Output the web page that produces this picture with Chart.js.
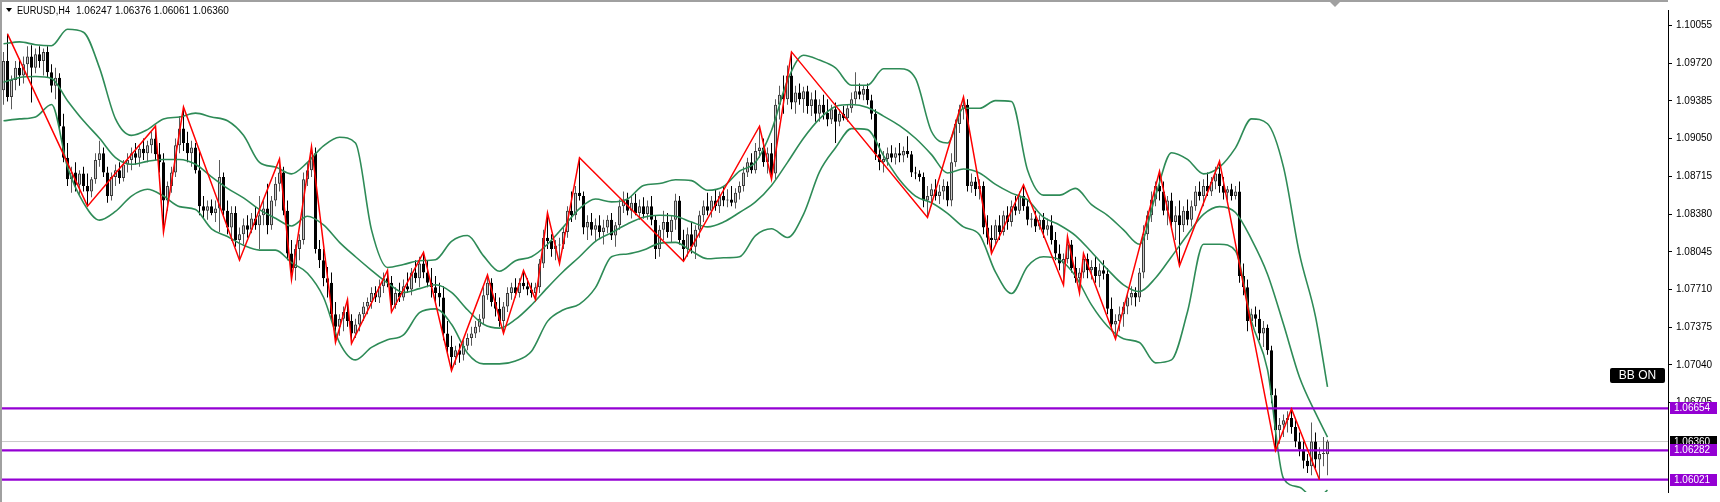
<!DOCTYPE html>
<html>
<head>
<meta charset="utf-8">
<title>EURUSD,H4</title>
<script src="https://cdn.jsdelivr.net/npm/chart.js@4.4.0/dist/chart.umd.min.js"></script>
<style>
  html, body { margin: 0; padding: 0; background: #fff; overflow: hidden; }
  #wrap { position: relative; width: 1720px; height: 502px; }
</style>
</head>
<body>
<div id="wrap"><canvas id="myChart" width="1720" height="502"></canvas></div>
<script>
const symbol = "EURUSD,H4";

// H4 bars, oldest first
const opens = [
  1.0948,1.0974,1.0942,1.0957,1.0968,1.0961,1.0971,1.0978,1.0968,1.0980,
  1.0974,1.0982,1.0964,1.0952,1.0959,1.0916,1.0888,1.0869,1.0875,1.0864,
  1.0874,1.0863,1.0858,1.0869,1.0886,1.0892,1.0875,1.0854,1.0871,1.0877,
  1.0870,1.0882,1.0886,1.0892,1.0888,1.0896,1.0892,1.0899,1.0905,1.0891,
  1.0884,1.0850,1.0863,1.0875,1.0899,1.0914,1.0901,1.0892,1.0897,1.0877,
  1.0845,1.0841,1.0845,1.0839,1.0843,1.0871,1.0841,1.0826,1.0839,1.0815,
  1.0820,1.0828,1.0824,1.0834,1.0828,1.0837,1.0843,1.0828,1.0850,1.0865,
  1.0875,1.0841,1.0803,1.0790,1.0807,1.0815,1.0869,1.0877,1.0892,1.0807,
  1.0797,1.0781,1.0777,1.0749,1.0738,1.0745,1.0751,1.0743,1.0732,1.0740,
  1.0749,1.0756,1.0760,1.0768,1.0764,1.0774,1.0781,1.0777,1.0757,1.0768,
  1.0764,1.0774,1.0771,1.0786,1.0781,1.0794,1.0786,1.0777,1.0773,1.0768,
  1.0764,1.0732,1.0720,1.0711,1.0717,1.0713,1.0721,1.0728,1.0732,1.0738,
  1.0745,1.0766,1.0777,1.0760,1.0754,1.0743,1.0756,1.0768,1.0773,1.0768,
  1.0777,1.0774,1.0771,1.0768,1.0773,1.0794,1.0817,1.0814,1.0807,1.0810,
  1.0811,1.0822,1.0841,1.0837,1.0857,1.0854,1.0826,1.0831,1.0824,1.0828,
  1.0822,1.0826,1.0833,1.0819,1.0828,1.0845,1.0851,1.0841,1.0848,1.0839,
  1.0845,1.0838,1.0845,1.0833,1.0807,1.0824,1.0831,1.0822,1.0833,1.0850,
  1.0815,1.0807,1.0820,1.0809,1.0824,1.0837,1.0845,1.0841,1.0850,1.0845,
  1.0854,1.0850,1.0851,1.0848,1.0857,1.0863,1.0875,1.0884,1.0877,1.0894,
  1.0897,1.0884,1.0892,1.0874,1.0935,1.0944,1.0940,1.0961,1.0937,1.0946,
  1.0940,1.0947,1.0934,1.0940,1.0927,1.0935,1.0928,1.0922,1.0931,1.0920,
  1.0927,1.0923,1.0932,1.0940,1.0947,1.0944,1.0949,1.0939,1.0927,1.0891,
  1.0884,1.0887,1.0892,1.0888,1.0892,1.0890,1.0894,1.0891,1.0875,1.0874,
  1.0871,1.0850,1.0854,1.0860,1.0854,1.0858,1.0863,1.0850,1.0884,1.0918,
  1.0931,1.0935,1.0863,1.0867,1.0860,1.0863,1.0826,1.0817,1.0815,1.0828,
  1.0822,1.0837,1.0831,1.0845,1.0841,1.0854,1.0845,1.0833,1.0834,1.0827,
  1.0833,1.0824,1.0828,1.0815,1.0803,1.0794,1.0798,1.0811,1.0790,1.0781,
  1.0786,1.0798,1.0788,1.0791,1.0783,1.0788,1.0785,1.0754,1.0740,1.0743,
  1.0749,1.0756,1.0764,1.0768,1.0764,1.0786,1.0820,1.0837,1.0851,1.0863,
  1.0858,1.0841,1.0850,1.0831,1.0837,1.0828,1.0841,1.0833,1.0845,1.0858,
  1.0854,1.0863,1.0858,1.0867,1.0874,1.0863,1.0857,1.0860,1.0854,1.0858,
  1.0783,1.0773,1.0743,1.0749,1.0745,1.0732,1.0737,1.0717,1.0677,1.0646,
  1.0651,1.0655,1.0657,1.0649,1.0636,1.0629,1.0619,1.0614,1.0636,1.0620,
  1.0625,1.06247
];
const highs = [
  1.0982,1.0998,1.0961,1.0974,1.0976,1.0978,1.0987,1.0988,1.0985,1.0987,
  1.0985,1.0987,1.0971,1.0968,1.0963,1.0927,1.0901,1.0880,1.0884,1.0877,
  1.0880,1.0874,1.0871,1.0892,1.0903,1.0897,1.0880,1.0875,1.0882,1.0884,
  1.0886,1.0892,1.0897,1.0901,1.0899,1.0905,1.0903,1.0911,1.0916,1.0901,
  1.0892,1.0867,1.0880,1.0905,1.0925,1.0933,1.0911,1.0903,1.0901,1.0894,
  1.0854,1.0850,1.0851,1.0850,1.0886,1.0875,1.0850,1.0845,1.0845,1.0826,
  1.0834,1.0837,1.0839,1.0845,1.0854,1.0850,1.0865,1.0854,1.0871,1.0887,
  1.0880,1.0850,1.0815,1.0811,1.0820,1.0875,1.0884,1.0898,1.0897,1.0815,
  1.0807,1.0791,1.0786,1.0760,1.0749,1.0756,1.0762,1.0749,1.0745,1.0751,
  1.0760,1.0764,1.0773,1.0774,1.0780,1.0786,1.0788,1.0783,1.0773,1.0777,
  1.0780,1.0786,1.0790,1.0797,1.0800,1.0804,1.0797,1.0790,1.0783,1.0777,
  1.0774,1.0743,1.0730,1.0721,1.0723,1.0726,1.0732,1.0738,1.0743,1.0749,
  1.0773,1.0784,1.0781,1.0768,1.0764,1.0760,1.0773,1.0777,1.0781,1.0781,
  1.0788,1.0781,1.0777,1.0777,1.0798,1.0824,1.0839,1.0820,1.0815,1.0817,
  1.0826,1.0845,1.0858,1.0863,1.0888,1.0858,1.0837,1.0839,1.0834,1.0837,
  1.0833,1.0837,1.0839,1.0831,1.0851,1.0858,1.0857,1.0854,1.0856,1.0851,
  1.0853,1.0850,1.0854,1.0837,1.0828,1.0841,1.0839,1.0837,1.0856,1.0854,
  1.0824,1.0826,1.0831,1.0828,1.0841,1.0850,1.0857,1.0854,1.0860,1.0858,
  1.0863,1.0860,1.0863,1.0861,1.0867,1.0880,1.0888,1.0892,1.0901,1.0916,
  1.0905,1.0897,1.0901,1.0940,1.0952,1.0961,1.0970,1.0982,1.0952,1.0954,
  1.0951,1.0952,1.0946,1.0948,1.0940,1.0944,1.0940,1.0935,1.0937,1.0931,
  1.0934,1.0935,1.0946,1.0964,1.0954,1.0952,1.0954,1.0944,1.0931,1.0901,
  1.0894,1.0897,1.0899,1.0897,1.0901,1.0898,1.0907,1.0894,1.0880,1.0877,
  1.0875,1.0863,1.0865,1.0869,1.0864,1.0869,1.0867,1.0892,1.0922,1.0935,
  1.0942,1.0940,1.0874,1.0871,1.0869,1.0867,1.0837,1.0828,1.0833,1.0837,
  1.0841,1.0845,1.0850,1.0854,1.0858,1.0864,1.0851,1.0839,1.0841,1.0837,
  1.0839,1.0834,1.0837,1.0822,1.0811,1.0803,1.0818,1.0815,1.0800,1.0790,
  1.0803,1.0803,1.0797,1.0800,1.0794,1.0797,1.0790,1.0764,1.0749,1.0756,
  1.0760,1.0768,1.0774,1.0773,1.0790,1.0828,1.0841,1.0858,1.0867,1.0876,
  1.0867,1.0854,1.0857,1.0845,1.0850,1.0845,1.0851,1.0850,1.0863,1.0867,
  1.0869,1.0875,1.0871,1.0880,1.0885,1.0871,1.0863,1.0865,1.0863,1.0867,
  1.0794,1.0780,1.0754,1.0756,1.0753,1.0743,1.0740,1.0721,1.0683,1.0657,
  1.0660,1.0663,1.0665,1.0655,1.0644,1.0636,1.0625,1.0653,1.0644,1.0631,
  1.0640,1.06376
];
const lows = [
  1.0935,1.0938,1.0931,1.0948,1.0952,1.0954,1.0961,1.0937,1.0963,1.0968,
  1.0961,1.0959,1.0946,1.0940,1.0911,1.0884,1.0863,1.0857,1.0858,1.0854,
  1.0858,1.0845,1.0853,1.0865,1.0880,1.0871,1.0848,1.0850,1.0863,1.0865,
  1.0867,1.0875,1.0877,1.0882,1.0880,1.0886,1.0884,1.0892,1.0886,1.0875,
  1.0822,1.0841,1.0857,1.0871,1.0892,1.0894,1.0884,1.0880,1.0874,1.0837,
  1.0834,1.0833,1.0837,1.0831,1.0822,1.0837,1.0820,1.0814,1.0809,1.0797,
  1.0811,1.0817,1.0821,1.0824,1.0807,1.0828,1.0820,1.0824,1.0845,1.0858,
  1.0837,1.0797,1.0780,1.0779,1.0797,1.0811,1.0863,1.0871,1.0803,1.0790,
  1.0774,1.0764,1.0743,1.0724,1.0730,1.0734,1.0738,1.0723,1.0728,1.0734,
  1.0743,1.0749,1.0754,1.0760,1.0759,1.0768,1.0773,1.0751,1.0754,1.0760,
  1.0761,1.0768,1.0766,1.0777,1.0773,1.0781,1.0773,1.0764,1.0760,1.0756,
  1.0726,1.0713,1.0699,1.0704,1.0706,1.0708,1.0717,1.0721,1.0728,1.0733,
  1.0740,1.0762,1.0756,1.0747,1.0738,1.0732,1.0751,1.0762,1.0764,1.0764,
  1.0771,1.0766,1.0764,1.0762,1.0768,1.0790,1.0807,1.0800,1.0797,1.0794,
  1.0807,1.0817,1.0831,1.0833,1.0850,1.0820,1.0815,1.0819,1.0814,1.0817,
  1.0811,1.0821,1.0815,1.0809,1.0824,1.0839,1.0837,1.0834,1.0837,1.0833,
  1.0834,1.0833,1.0828,1.0798,1.0800,1.0815,1.0817,1.0813,1.0824,1.0811,
  1.0796,1.0800,1.0803,1.0798,1.0817,1.0831,1.0837,1.0835,1.0841,1.0839,
  1.0845,1.0844,1.0845,1.0843,1.0851,1.0858,1.0871,1.0874,1.0874,1.0888,
  1.0880,1.0874,1.0869,1.0869,1.0922,1.0927,1.0935,1.0931,1.0927,1.0935,
  1.0928,1.0927,1.0925,1.0920,1.0920,1.0922,1.0916,1.0918,1.0901,1.0916,
  1.0921,1.0920,1.0928,1.0935,1.0940,1.0939,1.0935,1.0922,1.0886,1.0877,
  1.0875,1.0881,1.0884,1.0882,1.0884,1.0884,1.0888,1.0871,1.0869,1.0867,
  1.0844,1.0835,1.0845,1.0850,1.0847,1.0851,1.0845,1.0845,1.0880,1.0910,
  1.0922,1.0858,1.0857,1.0854,1.0851,1.0820,1.0811,1.0803,1.0811,1.0815,
  1.0819,1.0824,1.0827,1.0837,1.0838,1.0841,1.0828,1.0826,1.0822,1.0824,
  1.0817,1.0819,1.0811,1.0797,1.0788,1.0775,1.0794,1.0786,1.0777,1.0768,
  1.0781,1.0781,1.0780,1.0777,1.0773,1.0780,1.0749,1.0734,1.0727,1.0734,
  1.0738,1.0749,1.0757,1.0756,1.0760,1.0781,1.0815,1.0831,1.0845,1.0850,
  1.0837,1.0828,1.0824,1.0815,1.0792,1.0822,1.0828,1.0827,1.0841,1.0850,
  1.0845,1.0854,1.0854,1.0860,1.0857,1.0851,1.0850,1.0850,1.0851,1.0777,
  1.0766,1.0734,1.0737,1.0738,1.0726,1.0720,1.0713,1.0670,1.0628,1.0634,
  1.0640,1.0644,1.0643,1.0631,1.0623,1.0612,1.0608,1.0606,1.0612,1.0602,
  1.0614,1.06061
];
const closes = [
  1.0974,1.0942,1.0957,1.0968,1.0961,1.0971,1.0978,1.0968,1.0980,1.0974,
  1.0982,1.0964,1.0952,1.0959,1.0916,1.0888,1.0869,1.0875,1.0864,1.0874,
  1.0863,1.0858,1.0869,1.0886,1.0892,1.0875,1.0854,1.0871,1.0877,1.0870,
  1.0882,1.0886,1.0892,1.0888,1.0896,1.0892,1.0899,1.0905,1.0891,1.0884,
  1.0850,1.0863,1.0875,1.0899,1.0914,1.0901,1.0892,1.0897,1.0877,1.0845,
  1.0841,1.0845,1.0839,1.0843,1.0871,1.0841,1.0826,1.0839,1.0815,1.0820,
  1.0828,1.0824,1.0834,1.0828,1.0837,1.0843,1.0828,1.0850,1.0865,1.0875,
  1.0841,1.0803,1.0790,1.0807,1.0815,1.0869,1.0877,1.0892,1.0807,1.0797,
  1.0781,1.0777,1.0749,1.0738,1.0745,1.0751,1.0743,1.0732,1.0740,1.0749,
  1.0756,1.0760,1.0768,1.0764,1.0774,1.0781,1.0777,1.0757,1.0768,1.0764,
  1.0774,1.0771,1.0786,1.0781,1.0794,1.0786,1.0777,1.0773,1.0768,1.0764,
  1.0732,1.0720,1.0711,1.0717,1.0713,1.0721,1.0728,1.0732,1.0738,1.0745,
  1.0766,1.0777,1.0760,1.0754,1.0743,1.0756,1.0768,1.0773,1.0768,1.0777,
  1.0774,1.0771,1.0768,1.0773,1.0794,1.0817,1.0814,1.0807,1.0810,1.0811,
  1.0822,1.0841,1.0837,1.0857,1.0854,1.0826,1.0831,1.0824,1.0828,1.0822,
  1.0826,1.0833,1.0819,1.0828,1.0845,1.0851,1.0841,1.0848,1.0839,1.0845,
  1.0838,1.0845,1.0833,1.0807,1.0824,1.0831,1.0822,1.0833,1.0850,1.0815,
  1.0807,1.0820,1.0809,1.0824,1.0837,1.0845,1.0841,1.0850,1.0845,1.0854,
  1.0850,1.0851,1.0848,1.0857,1.0863,1.0875,1.0884,1.0877,1.0894,1.0897,
  1.0884,1.0892,1.0874,1.0935,1.0944,1.0940,1.0961,1.0937,1.0946,1.0940,
  1.0947,1.0934,1.0940,1.0927,1.0935,1.0928,1.0922,1.0931,1.0920,1.0927,
  1.0923,1.0932,1.0940,1.0947,1.0944,1.0949,1.0939,1.0927,1.0891,1.0884,
  1.0887,1.0892,1.0888,1.0892,1.0890,1.0894,1.0891,1.0875,1.0874,1.0871,
  1.0850,1.0854,1.0860,1.0854,1.0858,1.0863,1.0850,1.0884,1.0918,1.0931,
  1.0935,1.0863,1.0867,1.0860,1.0863,1.0826,1.0817,1.0815,1.0828,1.0822,
  1.0837,1.0831,1.0845,1.0841,1.0854,1.0845,1.0833,1.0834,1.0827,1.0833,
  1.0824,1.0828,1.0815,1.0803,1.0794,1.0798,1.0811,1.0790,1.0781,1.0786,
  1.0798,1.0788,1.0791,1.0783,1.0788,1.0785,1.0754,1.0740,1.0743,1.0749,
  1.0756,1.0764,1.0768,1.0764,1.0786,1.0820,1.0837,1.0851,1.0863,1.0858,
  1.0841,1.0850,1.0831,1.0837,1.0828,1.0841,1.0833,1.0845,1.0858,1.0854,
  1.0863,1.0858,1.0867,1.0874,1.0863,1.0857,1.0860,1.0854,1.0858,1.0783,
  1.0773,1.0743,1.0749,1.0745,1.0732,1.0737,1.0717,1.0677,1.0646,1.0651,
  1.0655,1.0657,1.0649,1.0636,1.0629,1.0619,1.0614,1.0636,1.0620,1.0625,
  1.0625,1.06360
];

// Bollinger bands, read every 4th bar (last point on the last bar)
const upperBand = [
  1.09892,1.09909,1.09884,1.09875,1.10021,1.09995,1.09678,1.09225,1.09079,1.09130,
  1.09225,1.09242,1.09276,1.09242,1.09208,1.09079,1.08839,1.08797,1.08737,1.08839,
  1.08985,1.09062,1.09011,1.08240,1.07906,1.07932,1.07966,1.07975,1.08138,1.08189,
  1.08009,1.07872,1.07966,1.08001,1.08112,1.08266,1.08429,1.08514,1.08488,1.08514,
  1.08634,1.08651,1.08685,1.08677,1.08591,1.08625,1.08762,1.08839,1.09122,1.09567,
  1.09790,1.09747,1.09678,1.09524,1.09524,1.09670,1.09670,1.09584,1.09113,1.09011,
  1.09319,1.09319,1.09387,1.09379,1.08771,1.08548,1.08548,1.08608,1.08463,1.08369,
  1.08240,1.08112,1.08540,1.08925,1.08865,1.08737,1.08797,1.08968,1.09225,1.09182,
  1.08797,1.08026,1.07470,1.06845
];
const middleBand = [
  1.09550,1.09593,1.09601,1.09584,1.09387,1.09208,1.09053,1.08882,1.08822,1.08848,
  1.08865,1.08865,1.08822,1.08711,1.08608,1.08523,1.08420,1.08343,1.08274,1.08360,
  1.08283,1.08129,1.08001,1.07881,1.07769,1.07684,1.07718,1.07752,1.07684,1.07530,
  1.07401,1.07367,1.07444,1.07573,1.07727,1.07872,1.08001,1.08138,1.08215,1.08292,
  1.08352,1.08369,1.08360,1.08309,1.08266,1.08309,1.08394,1.08488,1.08634,1.08839,
  1.09053,1.09225,1.09336,1.09353,1.09327,1.09250,1.09165,1.09053,1.08908,1.08745,
  1.08780,1.08745,1.08643,1.08566,1.08506,1.08352,1.08283,1.08189,1.08043,1.07889,
  1.07752,1.07692,1.07812,1.08001,1.08197,1.08377,1.08446,1.08394,1.08155,1.07846,
  1.07401,1.06931,1.06614,1.06400
];
const lowerBand = [
  1.09208,1.09225,1.09242,1.09353,1.08797,1.08480,1.08326,1.08403,1.08540,1.08600,
  1.08540,1.08446,1.08420,1.08249,1.08180,1.08103,1.08060,1.08060,1.07949,1.07855,
  1.07641,1.07239,1.07085,1.07196,1.07264,1.07307,1.07504,1.07538,1.07401,1.07145,
  1.07050,1.07050,1.07076,1.07162,1.07427,1.07530,1.07581,1.07727,1.08001,1.08026,
  1.08060,1.08120,1.08129,1.08052,1.07983,1.07992,1.08001,1.08189,1.08249,1.08172,
  1.08377,1.08754,1.08968,1.09139,1.09130,1.08899,1.08685,1.08540,1.08480,1.08386,
  1.08266,1.08197,1.07864,1.07675,1.07915,1.08001,1.07975,1.07829,1.07573,1.07384,
  1.07273,1.07239,1.07059,1.07085,1.07513,1.08112,1.08112,1.08052,1.07427,1.06999,
  1.06032,1.05955,1.05843,1.05929
];

// ZigZag swing points (bar number, price)
const zigzagBars = [1,21,38,40,45,59,69,72,77,83,86,87,96,97,105,112,121,125,130,133,136,139,144,170,189,192,197,231,240,247,255,265,266,269,270,278,289,294,304,318,322,329];
const zigzagPrices = [
  1.0998,1.0845,1.0916,1.0822,1.0933,1.0797,1.0887,1.0780,1.0898,1.0724,
  1.0762,1.0723,1.0788,1.0751,1.0804,1.0699,1.0784,1.0732,1.0788,1.0762,
  1.0839,1.0794,1.0888,1.0796,1.0916,1.0869,1.0982,1.0835,1.0942,1.0803,
  1.0864,1.0775,1.0818,1.0768,1.0803,1.0727,1.0876,1.0792,1.0885,1.0628,
  1.0665,1.0602
];

const levelLines = [1.06654, 1.06282, 1.06021];
const bidPrice = 1.06360;
const priceTicks = [1.10055, 1.09720, 1.09385, 1.09050, 1.08715, 1.08380, 1.08045, 1.07710, 1.07375, 1.07040, 1.06705];

const xMin = -0.375;
const xMax = 416.125;
const yMin = 1.05912;
const yMax = 1.10192;
const fontFamily = "'Liberation Sans', Arial, sans-serif";

Chart.defaults.font.family = fontFamily;

function isUp(i) {
  return closes[i] >= opens[i];
}

function flatLine(value) {
  return [
    { x: xMin, y: value },
    { x: xMax, y: value },
  ];
}

const bandBars = upperBand.map((v, k) =>
  k === upperBand.length - 1 ? closes.length - 1 : k * 4
);

function bandDataset(values) {
  return {
    type: "line",
    data: values.map((v, k) => ({ x: bandBars[k], y: v })),
    borderColor: "#2e8b57",
    borderWidth: 1.6,
    pointRadius: 0,
    cubicInterpolationMode: "monotone",
    order: 2,
  };
}

// ..........................overlay: frame, title, price tags...................
const overlay = {
  id: "overlay",
  afterDraw(chart) {
    const ctx = chart.ctx;
    const area = chart.chartArea;
    const yScale = chart.scales.y;
    const xScale = chart.scales.x;
    ctx.save();

    ctx.fillStyle = "#a0a0a0";
    ctx.fillRect(0, 0, area.right, 2);
    ctx.fillRect(0, 0, 2, chart.height);

    // chart shift marker
    const sx = Math.round(xScale.getPixelForValue(closes.length + 0.75));
    ctx.beginPath();
    ctx.moveTo(sx - 5, 2);
    ctx.lineTo(sx + 5, 2);
    ctx.lineTo(sx, 7);
    ctx.closePath();
    ctx.fill();

    // title
    const last = closes.length - 1;
    ctx.fillStyle = "#000";
    ctx.beginPath();
    ctx.moveTo(6, 8);
    ctx.lineTo(12, 8);
    ctx.lineTo(9, 12);
    ctx.closePath();
    ctx.fill();
    ctx.font = "10px " + fontFamily;
    ctx.textBaseline = "alphabetic";
    ctx.textAlign = "left";
    ctx.fillText(symbol, 17, 14, 53);
    const ohlc = [opens[last], highs[last], lows[last], closes[last]]
      .map((v) => v.toFixed(5))
      .join(" ");
    ctx.fillText(ohlc, 76, 14);

    // price tags on the axis
    ctx.textBaseline = "middle";
    function priceTag(value, bg) {
      const py = Math.round(yScale.getPixelForValue(value));
      ctx.fillStyle = bg;
      ctx.fillRect(area.right + 2, py - 6, 47, 12);
      ctx.fillStyle = "#fff";
      ctx.fillText(value.toFixed(5), area.right + 6, py + 0.5);
    }
    priceTag(bidPrice, "#000");
    levelLines.forEach((v) => priceTag(v, "#9400d3"));

    // BB ON button
    ctx.fillStyle = "#000";
    ctx.beginPath();
    ctx.roundRect(1610, 368, 55, 15, 2);
    ctx.fill();
    ctx.fillStyle = "#fff";
    ctx.font = "12px " + fontFamily;
    ctx.textAlign = "center";
    ctx.fillText("BB ON", 1637.5, 376);

    ctx.restore();
  },
};

const config = {
  type: "bar",
  data: {
    datasets: [
      {
        type: "line",
        label: "ZigZag",
        data: zigzagBars.map((b, k) => ({ x: b, y: zigzagPrices[k] })),
        borderColor: "#ff0000",
        borderWidth: 1.5,
        pointRadius: 0,
        tension: 0,
        order: 0,
      },
      ...levelLines.map((v) => ({
        type: "line",
        data: flatLine(v),
        borderColor: "#9400d3",
        borderWidth: 2.2,
        pointRadius: 0,
        order: 1,
      })),
      bandDataset(upperBand),
      bandDataset(middleBand),
      bandDataset(lowerBand),
      {
        label: "body",
        data: closes.map((c, i) => ({ x: i, y: [opens[i], c] })),
        barThickness: 3,
        minBarLength: 1,
        grouped: false,
        inflateAmount: 0,
        borderSkipped: false,
        borderWidth: 1,
        backgroundColor: (c) => (isUp(c.dataIndex) ? "#c8c8c8" : "#000000"),
        borderColor: (c) => (isUp(c.dataIndex) ? "#3c3c3c" : "#000000"),
        order: 3,
      },
      {
        label: "wick",
        data: highs.map((h, i) => ({ x: i, y: [lows[i], h] })),
        barThickness: 1,
        grouped: false,
        inflateAmount: 0,
        borderWidth: 0,
        backgroundColor: (c) => (isUp(c.dataIndex) ? "#5a5a5a" : "#000000"),
        order: 4,
      },
      {
        type: "line",
        data: flatLine(bidPrice),
        borderColor: "#c8c8c8",
        borderWidth: 1,
        pointRadius: 0,
        order: 5,
      },
    ],
  },
  options: {
    responsive: false,
    animation: false,
    devicePixelRatio: 1,
    events: [],
    layout: { padding: { top: 2, left: 2, right: 0, bottom: 0 } },
    plugins: {
      legend: { display: false },
      tooltip: { enabled: false },
    },
    scales: {
      x: {
        type: "linear",
        min: xMin,
        max: xMax,
        offset: false,
        bounds: "ticks",
        display: false,
        afterDataLimits: (s) => {
          s.min = xMin;
          s.max = xMax;
        },
      },
      y: {
        type: "linear",
        position: "right",
        min: yMin,
        max: yMax,
        afterBuildTicks: (s) => {
          s.ticks = priceTicks.map((v) => ({ value: v }));
        },
        afterFit: (s) => {
          s.width = 52;
        },
        ticks: {
          autoSkip: false,
          color: "#000",
          font: { size: 10 },
          padding: 4,
          callback: (v) => Number(v).toFixed(5),
        },
        grid: {
          display: true,
          drawOnChartArea: false,
          drawTicks: true,
          tickLength: 4,
          color: "#000",
        },
        border: { display: true, color: "#000", width: 1 },
      },
    },
  },
  plugins: [overlay],
};

new Chart(document.getElementById("myChart"), config);
</script>
</body>
</html>
